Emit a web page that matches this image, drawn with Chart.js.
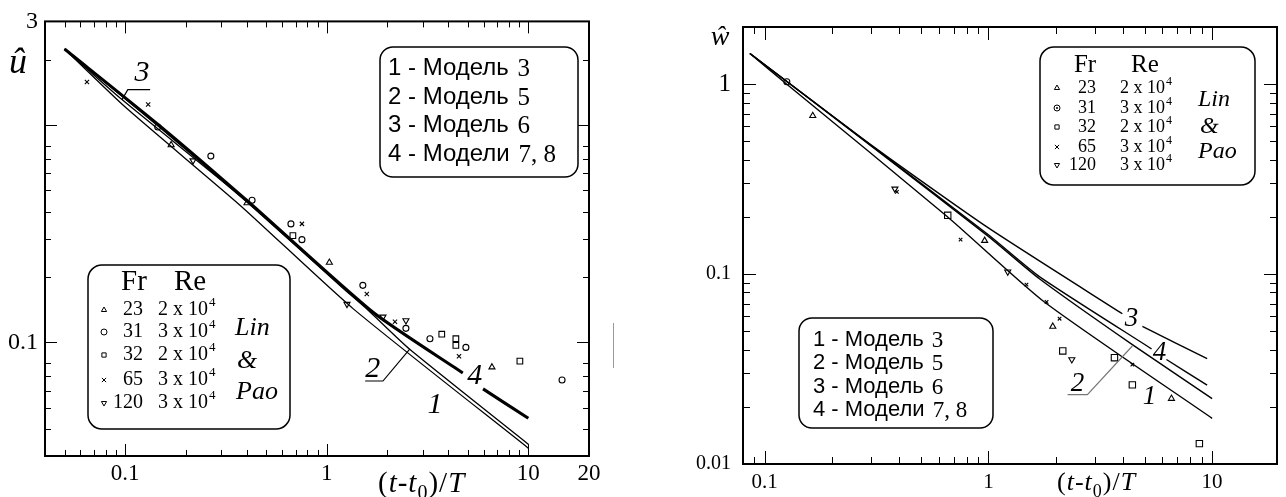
<!DOCTYPE html>
<html>
<head>
<meta charset="utf-8">
<script src="https://cdn.jsdelivr.net/npm/chart.js@4.4.1/dist/chart.umd.min.js"></script>
<style>
  body { margin: 0; background: #fff; }
  canvas { position: absolute; top: 0; }
  #uChart { left: 0; }
  #wChart { left: 640px; }
</style>
</head>
<body>
<canvas id="uChart" width="640" height="497"></canvas>
<canvas id="wChart" width="646" height="497"></canvas>
<script>
// два логарифмических графика: û и ŵ от (t-t0)/T, модели + точки Lin & Pao

const SERIF = '"Liberation Serif", "Times New Roman", serif';
const SANS = '"Liberation Sans", Arial, sans-serif';

// ---------- левый график (û) ----------
const uModel1X = [0.05, 0.1, 0.371, 1.35, 10];
const uModel1Y = [2.24, 1.21, 0.428, 0.143, 0.0326];
const uModel2X = [0.05, 0.149, 0.416, 1.2, 1.6, 2.58, 10];
const uModel2Y = [2.24, 0.972, 0.43, 0.178, 0.141, 0.093, 0.034];
const uModel3X = [0.05, 0.0964, 0.416, 1.69, 4.6];
const uModel3Y = [2.24, 1.31, 0.433, 0.137, 0.0735];
const uModel4X = [0.05, 0.149, 0.416, 1.69, 4.73, 5.3, 5.96, 10];
const uModel4Y = [2.24, 0.989, 0.437, 0.138, 0.0723, null, 0.0611, 0.0447]; // null - разрыв под "4"

const uFr23X = [0.169, 0.402, 1.03, 6.6];
const uFr23Y = [0.81, 0.438, 0.233, 0.0769];
const uFr31X = [0.145, 0.266, 0.426, 0.664, 0.753, 1.51, 2.47, 3.25, 4.9, 14.7];
const uFr31Y = [0.98, 0.72, 0.451, 0.351, 0.297, 0.183, 0.116, 0.104, 0.0948, 0.0671];
const uFr32X = [0.679, 3.72, 4.37, 4.37, 9.08];
const uFr32Y = [0.31, 0.109, 0.104, 0.0969, 0.082];
const uFr65X = [0.0646, 0.13, 0.753, 1.58, 2.18, 4.53];
const uFr65Y = [1.58, 1.245, 0.351, 0.167, 0.1245, 0.0863];
const uFr120X = [0.217, 1.26, 1.9, 2.47];
const uFr120Y = [0.686, 0.15, 0.131, 0.126];

const uXLabels = [0.1, 1, 10, 20];
const uYLabels = [0.1, 3];

const uTagText = ['3', '2', '1', '4'];
const uTagX = [0.121, 1.69, 3.44, 5.43];
const uTagY = [1.74, 0.0754, 0.0512, 0.070];
const uLeader3X = [0.133, 0.103, 0.0964];
const uLeader3Y = [1.455, 1.455, 1.31];
const uLeader2X = [1.55, 1.9, 2.58];
const uLeader2Y = [0.0664, 0.0664, 0.093];

// ---------- правый график (ŵ) ----------
const wModel1X = [0.0859, 0.1256, 0.652, 1.78, 10];
const wModel1Y = [1.45, 1.0, 0.2018, 0.0713, 0.0174];
const wModel2X = [0.0859, 0.304, 1.0, 1.69, 4.4, 10];
const wModel2Y = [1.45, 0.466, 0.158, 0.0945, 0.0425, 0.0221];
const wModel3X = [0.0859, 0.304, 1.0, 3.97, 4.4, 4.88, 9.5];
const wModel3Y = [1.45, 0.472, 0.175, 0.0618, null, 0.053, 0.0359];
const wModel4X = [0.0859, 0.304, 1.0, 1.69, 5.36, 5.8, 6.25, 9.5];
const wModel4Y = [1.45, 0.469, 0.161, 0.097, 0.0404, null, 0.0355, 0.026];

const wFr23X = [0.164, 0.962, 1.94, 6.58];
const wFr23Y = [0.682, 0.15, 0.053, 0.0221];
const wFr31X = [0.1256];
const wFr31Y = [1.03];
const wFr32X = [0.658, 2.15, 3.66, 4.4, 8.77];
const wFr32Y = [0.204, 0.0394, 0.0363, 0.0261, 0.0128];
const wFr65X = [0.39, 0.751, 1.48, 1.82, 2.08, 4.4];
const wFr65Y = [0.271, 0.152, 0.088, 0.0713, 0.0582, 0.0334];
const wFr120X = [0.382, 1.22, 2.36];
const wFr120Y = [0.281, 0.1028, 0.0355];

const wXLabels = [0.1, 1, 10];
const wYLabels = [0.01, 0.1, 1];

const wTagText = ['3', '4', '2', '1'];
const wTagX = [4.36, 5.82, 2.5, 5.25];
const wTagY = [0.0582, 0.0386, 0.0264, 0.0226];
const wLeader2X = [2.26, 2.77, 4.4];
const wLeader2Y = [0.0232, 0.0232, 0.0418];

// ---------- легенды ----------
const modelNames = ['1 - Модель', '2 - Модель', '3 - Модель', '4 - Модели'];
const modelNumbers = ['3', '5', '6', '7, 8'];
const frLabels = ['23', '31', '32', '65', '120'];
const reMantissa = ['2', '3', '2', '3', '3'];
const sourceWords = ['Lin', '&', 'Pao'];
const legendStyles = [
  { style: 'triangle', rot: 0 }, { style: 'circle', rot: 0 }, { style: 'rect', rot: 0 },
  { style: 'crossRot', rot: 0 }, { style: 'triangle', rot: 180 }
];

// ---------- помощники ----------
function pieces(xs, ys) {
  const out = [[]];
  xs.forEach((x, i) => ys[i] === null ? out.push([]) : out[out.length - 1].push({ x, y: ys[i] }));
  return out.filter(p => p.length > 1);
}
function curve(xs, ys, width) {
  return pieces(xs, ys).map(data => ({
    data, showLine: true, borderColor: '#000', borderWidth: width,
    pointRadius: 0, tension: 0.2, fill: false
  }));
}
function marks(xs, ys, k, r) {
  return {
    data: xs.map((x, i) => ({ x, y: ys[i] })), showLine: false,
    pointStyle: legendStyles[k].style, pointRotation: legendStyles[k].rot, pointRadius: r,
    pointBorderColor: '#000', pointBackgroundColor: 'rgba(0,0,0,0)', pointBorderWidth: 1.1
  };
}
function axis(min, max, labels, sizeFor, pad, key, size) {
  return {
    type: 'logarithmic', min, max, bounds: 'data',
    grid: { display: false, drawTicks: false }, border: { display: false },
    afterBuildTicks: s => { s.ticks = labels.map(v => ({ value: v })); },
    afterFit: s => { s[key] = size; },
    ticks: {
      autoSkip: false, maxRotation: 0, color: '#000', padding: pad,
      font: c => ({ family: SERIF, size: sizeFor(c.tick ? c.tick.value : 0) }),
      callback: v => String(v)
    }
  };
}
function tickValues(min, max, mults) {
  const out = [];
  for (let e = -3; e <= 2; e++) {
    mults.forEach(m => {
      const v = m * Math.pow(10, e);
      if (v > min * 1.001 && v < max * 0.999) out.push(v);
    });
  }
  return out;
}
const isMajor = v => Math.abs(Math.log10(v) - Math.round(Math.log10(v))) < 1e-6;
function seg(ctx, x1, y1, x2, y2) {
  ctx.beginPath(); ctx.moveTo(x1, y1); ctx.lineTo(x2, y2); ctx.stroke();
}
function roundBox(ctx, x, y, w, h, r) {
  ctx.beginPath();
  ctx.moveTo(x + r, y);
  ctx.arcTo(x + w, y, x + w, y + h, r);
  ctx.arcTo(x + w, y + h, x, y + h, r);
  ctx.arcTo(x, y + h, x, y, r);
  ctx.arcTo(x, y, x + w, y, r);
  ctx.closePath();
  ctx.fillStyle = '#fff'; ctx.fill();
  ctx.lineWidth = 1.5; ctx.strokeStyle = '#000'; ctx.stroke();
}
function mark(ctx, k, x, y, r) {
  ctx.save();
  ctx.strokeStyle = '#000'; ctx.fillStyle = 'rgba(0,0,0,0)'; ctx.lineWidth = 1;
  if (Chart.helpers && Chart.helpers.drawPoint) {
    Chart.helpers.drawPoint(ctx, { pointStyle: legendStyles[k].style, rotation: legendStyles[k].rot, radius: r, borderWidth: 1 }, x, y);
  }
  ctx.restore();
}
function xTitle(ctx, x, y, size) {
  const parts = [['(', ''], ['t', 'italic '], ['-', ''], ['t', 'italic '], ['0', '', 0.7, 0.25],
                 [')', ''], ['/', ''], ['T', 'italic ']];
  ctx.textAlign = 'left'; ctx.textBaseline = 'alphabetic'; ctx.fillStyle = '#000';
  parts.forEach(([t, st, sc = 1, dy = 0]) => {
    ctx.font = `${st}${Math.round(size * sc)}px ${SERIF}`;
    ctx.fillText(t, x, y + dy * size);
    x += ctx.measureText(t).width + 1;
  });
}
function modelBox(ctx, c) {
  roundBox(ctx, c.x, c.y, c.w, c.h, 13);
  ctx.fillStyle = '#000'; ctx.textAlign = 'left'; ctx.textBaseline = 'middle';
  modelNames.forEach((name, i) => {
    ctx.font = `${c.size}px ${SANS}`;
    const t = name + ' ';
    ctx.fillText(t, c.tx, c.rows[i]);
    const w = ctx.measureText(t).width;
    ctx.font = `${c.size + 1}px ${SERIF}`;
    ctx.fillText(modelNumbers[i], c.tx + w + 2, c.rows[i] + 1);
  });
}
function frReBox(ctx, c) {
  roundBox(ctx, c.x, c.y, c.w, c.h, 14);
  ctx.fillStyle = '#000'; ctx.textBaseline = 'middle'; ctx.textAlign = 'center';
  ctx.font = `${c.head}px ${SERIF}`;
  ctx.fillText('Fr', c.frX, c.headY);
  ctx.fillText('Re', c.reX, c.headY);
  frLabels.forEach((fr, i) => {
    const yy = c.rows[i];
    mark(ctx, i, c.markX, yy, c.r);
    if (c.dot && i === 1) { ctx.beginPath(); ctx.arc(c.markX, yy, 1, 0, 2 * Math.PI); ctx.fillStyle = '#000'; ctx.fill(); }
    ctx.fillStyle = '#000';
    ctx.font = `${c.size}px ${SERIF}`;
    ctx.textAlign = 'right'; ctx.fillText(fr, c.frRight, yy);
    ctx.textAlign = 'left';
    const base = reMantissa[i] + ' x 10';
    ctx.fillText(base, c.reLeft, yy);
    const w = ctx.measureText(base).width;
    ctx.font = `${Math.round(c.size * 0.65)}px ${SERIF}`;
    ctx.fillText('4', c.reLeft + w + 1, yy - c.size * 0.35);
  });
  ctx.font = `italic ${c.src}px ${SERIF}`; ctx.textAlign = 'left';
  sourceWords.forEach((t, i) => ctx.fillText(t, c.srcX[i], c.srcY[i]));
}
function tags(ctx, P, texts, xs, ys, size) {
  ctx.font = `italic ${size}px ${SERIF}`; ctx.fillStyle = '#000';
  ctx.textAlign = 'center'; ctx.textBaseline = 'middle';
  texts.forEach((t, i) => { const [px, py] = P(xs[i], ys[i]); ctx.fillText(t, px, py); });
}
function leader(ctx, P, xs, ys, color) {
  ctx.strokeStyle = color; ctx.lineWidth = 1.2;
  ctx.beginPath();
  xs.forEach((x, i) => { const [px, py] = P(x, ys[i]); i ? ctx.lineTo(px, py) : ctx.moveTo(px, py); });
  ctx.stroke();
}

// рамка, внутренние засечки и всё оформление поверх графика
function decor(yMults, minor, major, paint) {
  return {
    id: 'decor',
    afterDraw(chart) {
      const { ctx, chartArea: a, scales: { x, y } } = chart;
      ctx.save();
      ctx.strokeStyle = '#000'; ctx.lineWidth = 1;
      tickValues(x.min, x.max, [1, 2, 3, 4, 5, 6, 7, 8, 9]).forEach(v => {
        const p = Math.round(x.getPixelForValue(v)) + 0.5, len = isMajor(v) ? major : minor;
        seg(ctx, p, a.bottom, p, a.bottom - len);
        seg(ctx, p, a.top, p, a.top + len);
      });
      tickValues(y.min, y.max, yMults).forEach(v => {
        const p = Math.round(y.getPixelForValue(v)) + 0.5, len = isMajor(v) ? major : minor;
        seg(ctx, a.left, p, a.left + len, p);
        seg(ctx, a.right, p, a.right - len, p);
      });
      ctx.lineWidth = 2;
      ctx.strokeRect(a.left, a.top, a.right - a.left, a.bottom - a.top);
      const P = (vx, vy) => [x.getPixelForValue(vx), y.getPixelForValue(vy)];
      paint(ctx, P);
      ctx.restore();
    }
  };
}

function paintLeft(ctx, P) {
  ctx.fillStyle = '#000';
  ctx.font = `italic 36px ${SERIF}`; ctx.textAlign = 'center'; ctx.textBaseline = 'alphabetic';
  ctx.fillText('û', 18, 73);
  xTitle(ctx, 378, 492, 29);
  leader(ctx, P, uLeader3X, uLeader3Y, '#000');
  leader(ctx, P, uLeader2X, uLeader2Y, '#000');
  tags(ctx, P, uTagText, uTagX, uTagY, 30);
  modelBox(ctx, { x: 380, y: 47, w: 198, h: 130, tx: 388, rows: [68, 97, 125, 154], size: 24 });
  frReBox(ctx, {
    x: 88, y: 265, w: 202, h: 164, head: 29, frX: 134, reX: 190, headY: 282,
    rows: [310, 332, 355, 380, 403], markX: 104, r: 3, frRight: 143, reLeft: 158, size: 20,
    src: 26, srcX: [235, 237, 236], srcY: [328, 361, 392], dot: false
  });
  // след сканирования справа от рамки
  ctx.strokeStyle = '#999'; ctx.lineWidth = 1;
  seg(ctx, 613.5, 323, 613.5, 368);
}

function paintRight(ctx, P) {
  ctx.fillStyle = '#000';
  ctx.font = `italic 28px ${SERIF}`; ctx.textAlign = 'center'; ctx.textBaseline = 'alphabetic';
  ctx.fillText('ŵ', 80, 45);
  xTitle(ctx, 417, 490, 26);
  leader(ctx, P, wLeader2X, wLeader2Y, '#777');
  tags(ctx, P, wTagText, wTagX, wTagY, 27);
  modelBox(ctx, { x: 159, y: 318, w: 194, h: 110, tx: 173, rows: [340, 363, 387, 410], size: 22 });
  frReBox(ctx, {
    x: 400, y: 47, w: 215, h: 138, head: 25, frX: 445, reX: 505, headY: 65,
    rows: [88, 108, 127, 147, 165], markX: 417, r: 3, frRight: 456, reLeft: 480, size: 18,
    src: 24, srcX: [558, 560, 558], srcY: [100, 127, 152], dot: true
  });
}

Chart.defaults.font.family = SERIF;

new Chart(document.getElementById('uChart'), {
  type: 'scatter',
  data: {
    datasets: [
      ...curve(uModel1X, uModel1Y, 1.3),
      ...curve(uModel2X, uModel2Y, 1.3),
      ...curve(uModel3X, uModel3Y, 1.3),
      ...curve(uModel4X, uModel4Y, 3),
      marks(uFr23X, uFr23Y, 0, 3.5),
      marks(uFr31X, uFr31Y, 1, 3),
      marks(uFr32X, uFr32Y, 2, 4),
      marks(uFr65X, uFr65Y, 3, 3),
      marks(uFr120X, uFr120Y, 4, 3.5)
    ]
  },
  options: {
    responsive: false, animation: false, devicePixelRatio: 1,
    layout: { padding: { top: 16, right: 51, left: 0, bottom: 0 } },
    plugins: { legend: { display: false }, tooltip: { enabled: false } },
    scales: {
      x: axis(0.04, 20, uXLabels, () => 23, 4, 'height', 41),
      y: axis(0.03, 3, uYLabels, () => 24, 7, 'width', 45)
    }
  },
  plugins: [decor([1, 2, 3, 4, 5, 6, 7, 8], 6, 12, paintLeft)]
});

new Chart(document.getElementById('wChart'), {
  type: 'scatter',
  data: {
    datasets: [
      ...curve(wModel1X, wModel1Y, 1.4),
      ...curve(wModel2X, wModel2Y, 1.4),
      ...curve(wModel3X, wModel3Y, 1.4),
      ...curve(wModel4X, wModel4Y, 1.4),
      marks(wFr23X, wFr23Y, 0, 3.5),
      marks(wFr31X, wFr31Y, 1, 3),
      marks(wFr32X, wFr32Y, 2, 4.5),
      marks(wFr65X, wFr65Y, 3, 2.5),
      marks(wFr120X, wFr120Y, 4, 3.5)
    ]
  },
  options: {
    responsive: false, animation: false, devicePixelRatio: 1,
    layout: { padding: { top: 16, right: 9, left: 0, bottom: 0 } },
    plugins: { legend: { display: false }, tooltip: { enabled: false } },
    scales: {
      x: axis(0.08, 19.5, wXLabels, () => 21, 6, 'height', 33),
      y: axis(0.01, 2, wYLabels, v => (v === 1 ? 25 : 20), 12, 'width', 103)
    }
  },
  plugins: [decor([1, 2, 3, 4, 5, 6, 7, 8, 9], 7, 13, paintRight)]
});
</script>
</body>
</html>
